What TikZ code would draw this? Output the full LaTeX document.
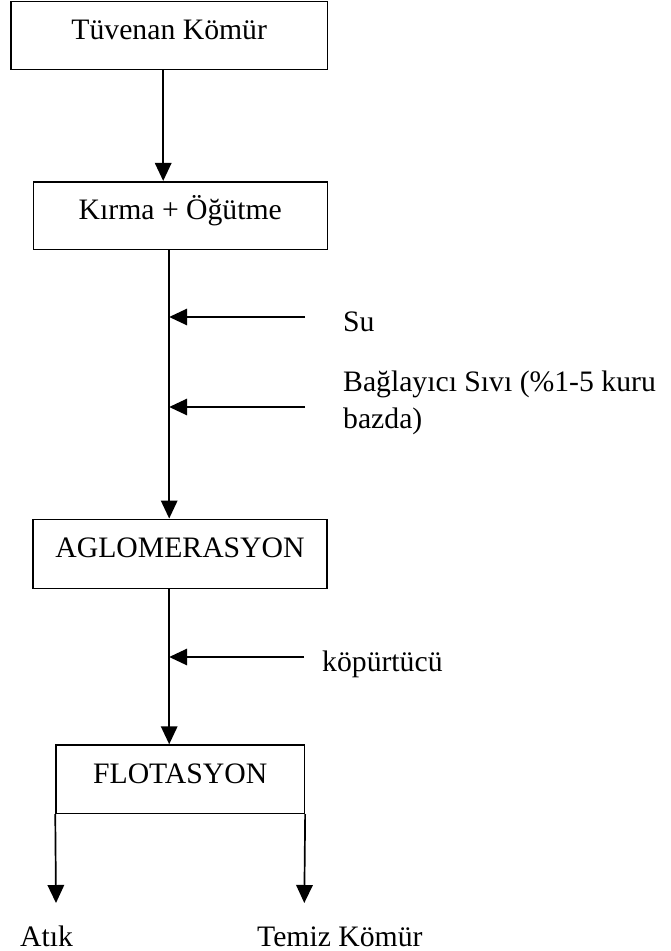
\documentclass[tikz,border=0pt]{standalone}
\usepackage{fontspec}
\setmainfont{Liberation Serif}
\usetikzlibrary{arrows.meta}
\begin{document}
\begin{tikzpicture}[x=1pt,y=-1pt,
  font=\fontsize{29.7}{37}\selectfont,
  box/.style={draw,line width=1.6pt,inner sep=0pt,text height=8pt,text depth=0pt},
  arr/.style={line width=1.7pt,-{Triangle[width=16.5pt,length=18pt]}},
  lbl/.style={inner sep=0pt,anchor=base west,align=left}]
\useasboundingbox (0,0) rectangle (670,951);
\node[box,minimum width=316.3pt,minimum height=67.8pt] (b1) at (169.2,35.4) {Tüvenan Kömür};
\node[box,minimum width=294pt,minimum height=67.6pt] (b2) at (180.3,215.5) {Kırma + Öğütme};
\node[box,minimum width=294pt,minimum height=69pt] (b3) at (180,553.8) {AGLOMERASYON};
\node[box,minimum width=248.3pt,minimum height=68.3pt] (b4) at (180.2,779.2) {FLOTASYON};
\draw[arr] (b1.south) ++(-6,0) coordinate (a1) -- (a1 |- b2.north);
\draw[arr] (b2.south -| b1.south) -- (b3.north -| b1.south);
\draw[arr] (b3.south -| b1.south) -- (b4.north -| b1.south);
\coordinate (s1) at (305,317);
\coordinate (s2) at (305,407);
\coordinate (s3) at (304,657);
\draw[arr] (s1) -- (s1 -| b1.south);
\draw[arr] (s2) -- (s2 -| b1.south);
\draw[arr] (s3) -- (s3 -| b1.south);
\node[lbl] (su) at (343,331) {Su};
\node[lbl] (bag) at (343,428) {Bağlayıcı Sıvı (\%1-5 kuru\\bazda)};
\node[lbl] (kop) at (322,671) {köpürtücü};
\coordinate (o1) at (56,903);
\coordinate (o2) at (304.3,903);
\draw[arr] (b4.south west) -- (o1);
\draw[arr] (b4.south east) -- (o2);
\node[lbl] (atik) at (20,946) {Atık};
\node[lbl] (temiz) at (257,946) {Temiz Kömür};
\end{tikzpicture}
\end{document}
